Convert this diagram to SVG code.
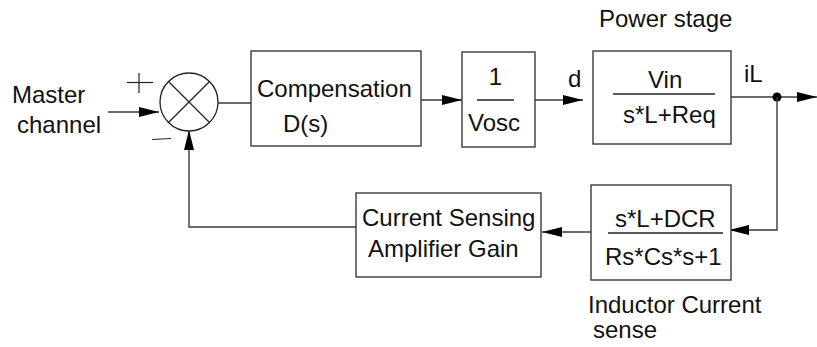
<svg xmlns="http://www.w3.org/2000/svg" width="817" height="347" viewBox="0 0 817 347">
<defs>
<style>
.box{fill:#fff;stroke:#3a3a3a;stroke-width:1.4}
.ln{fill:none;stroke:#3a3a3a;stroke-width:1.4}
.frac{stroke:#222;stroke-width:1.3}
.t{font-family:"Liberation Sans",Arial,sans-serif;font-size:24px;fill:#111}
</style>
<marker id="ah" markerUnits="userSpaceOnUse" markerWidth="21" markerHeight="11" refX="20" refY="5" orient="auto">
<path d="M0,0 L20,5 L0,10 Z" fill="#000"/>
</marker>
</defs>
<rect width="817" height="347" fill="#fff"/>

<g id="connectors">
<line class="ln" x1="108" y1="112" x2="159" y2="112" marker-end="url(#ah)"/>
<line class="ln" x1="218" y1="103" x2="251" y2="103"/>
<line class="ln" x1="414" y1="100" x2="462" y2="100" marker-end="url(#ah)"/>
<line class="ln" x1="535" y1="100" x2="583" y2="100" marker-end="url(#ah)"/>
<line class="ln" x1="731" y1="97" x2="817" y2="97" marker-end="url(#ah)"/>
<circle cx="777" cy="97" r="4.5" fill="#000"/>
<polyline class="ln" points="777,97 777,230 729,230" marker-end="url(#ah)"/>
<line class="ln" x1="591" y1="232" x2="542" y2="232" marker-end="url(#ah)"/>
<polyline class="ln" points="356,227 189,227 189,130" marker-end="url(#ah)"/>
</g>

<g id="input-label">
<text class="t" x="12" y="103">Master</text>
<text class="t" x="17" y="133">channel</text>
</g>

<g id="sum">
<circle cx="189" cy="102" r="29" fill="#fff" stroke="#222" stroke-width="1.3"/>
<line x1="168.5" y1="81.5" x2="209.5" y2="122.5" stroke="#222" stroke-width="1.3"/>
<line x1="209.5" y1="81.5" x2="168.5" y2="122.5" stroke="#222" stroke-width="1.3"/>
<line x1="127" y1="82.5" x2="153" y2="82.5" stroke="#222" stroke-width="1.2"/>
<line x1="139" y1="73" x2="139" y2="93" stroke="#222" stroke-width="1.2"/>
<line x1="152" y1="139.5" x2="171" y2="138.5" stroke="#222" stroke-width="1.2"/>
</g>

<g id="compensation">
<rect class="box" x="251" y="51" width="170" height="95"/>
<text class="t" x="257" y="97">Compensation</text>
<text class="t" x="283" y="132">D(s)</text>
</g>

<g id="vosc">
<rect class="box" x="462" y="52" width="73" height="95"/>
<text class="t" x="495.5" y="85" text-anchor="middle">1</text>
<line class="frac" x1="477" y1="100" x2="514" y2="100"/>
<text class="t" x="494" y="131" text-anchor="middle">Vosc</text>
</g>

<text class="t" x="568" y="87">d</text>

<g id="power-stage">
<text class="t" x="599" y="27">Power stage</text>
<rect class="box" x="593" y="51" width="138" height="93"/>
<text class="t" x="648" y="88">Vin</text>
<line class="frac" x1="613" y1="94" x2="715" y2="94"/>
<text class="t" x="623" y="123">s*L+Req</text>
</g>

<text class="t" x="744" y="82">iL</text>

<g id="inductor-sense">
<rect class="box" x="591" y="185" width="140" height="95"/>
<text class="t" x="615" y="227">s*L+DCR</text>
<line class="frac" x1="608" y1="233" x2="723" y2="233"/>
<text class="t" x="605" y="265">Rs*Cs*s+1</text>
<text class="t" x="588" y="313">Inductor Current</text>
<text class="t" x="593" y="338">sense</text>
</g>

<g id="current-sensing">
<rect class="box" x="356" y="193" width="185" height="84"/>
<text class="t" x="362" y="226">Current Sensing</text>
<text class="t" x="368" y="257">Amplifier Gain</text>
</g>
</svg>
